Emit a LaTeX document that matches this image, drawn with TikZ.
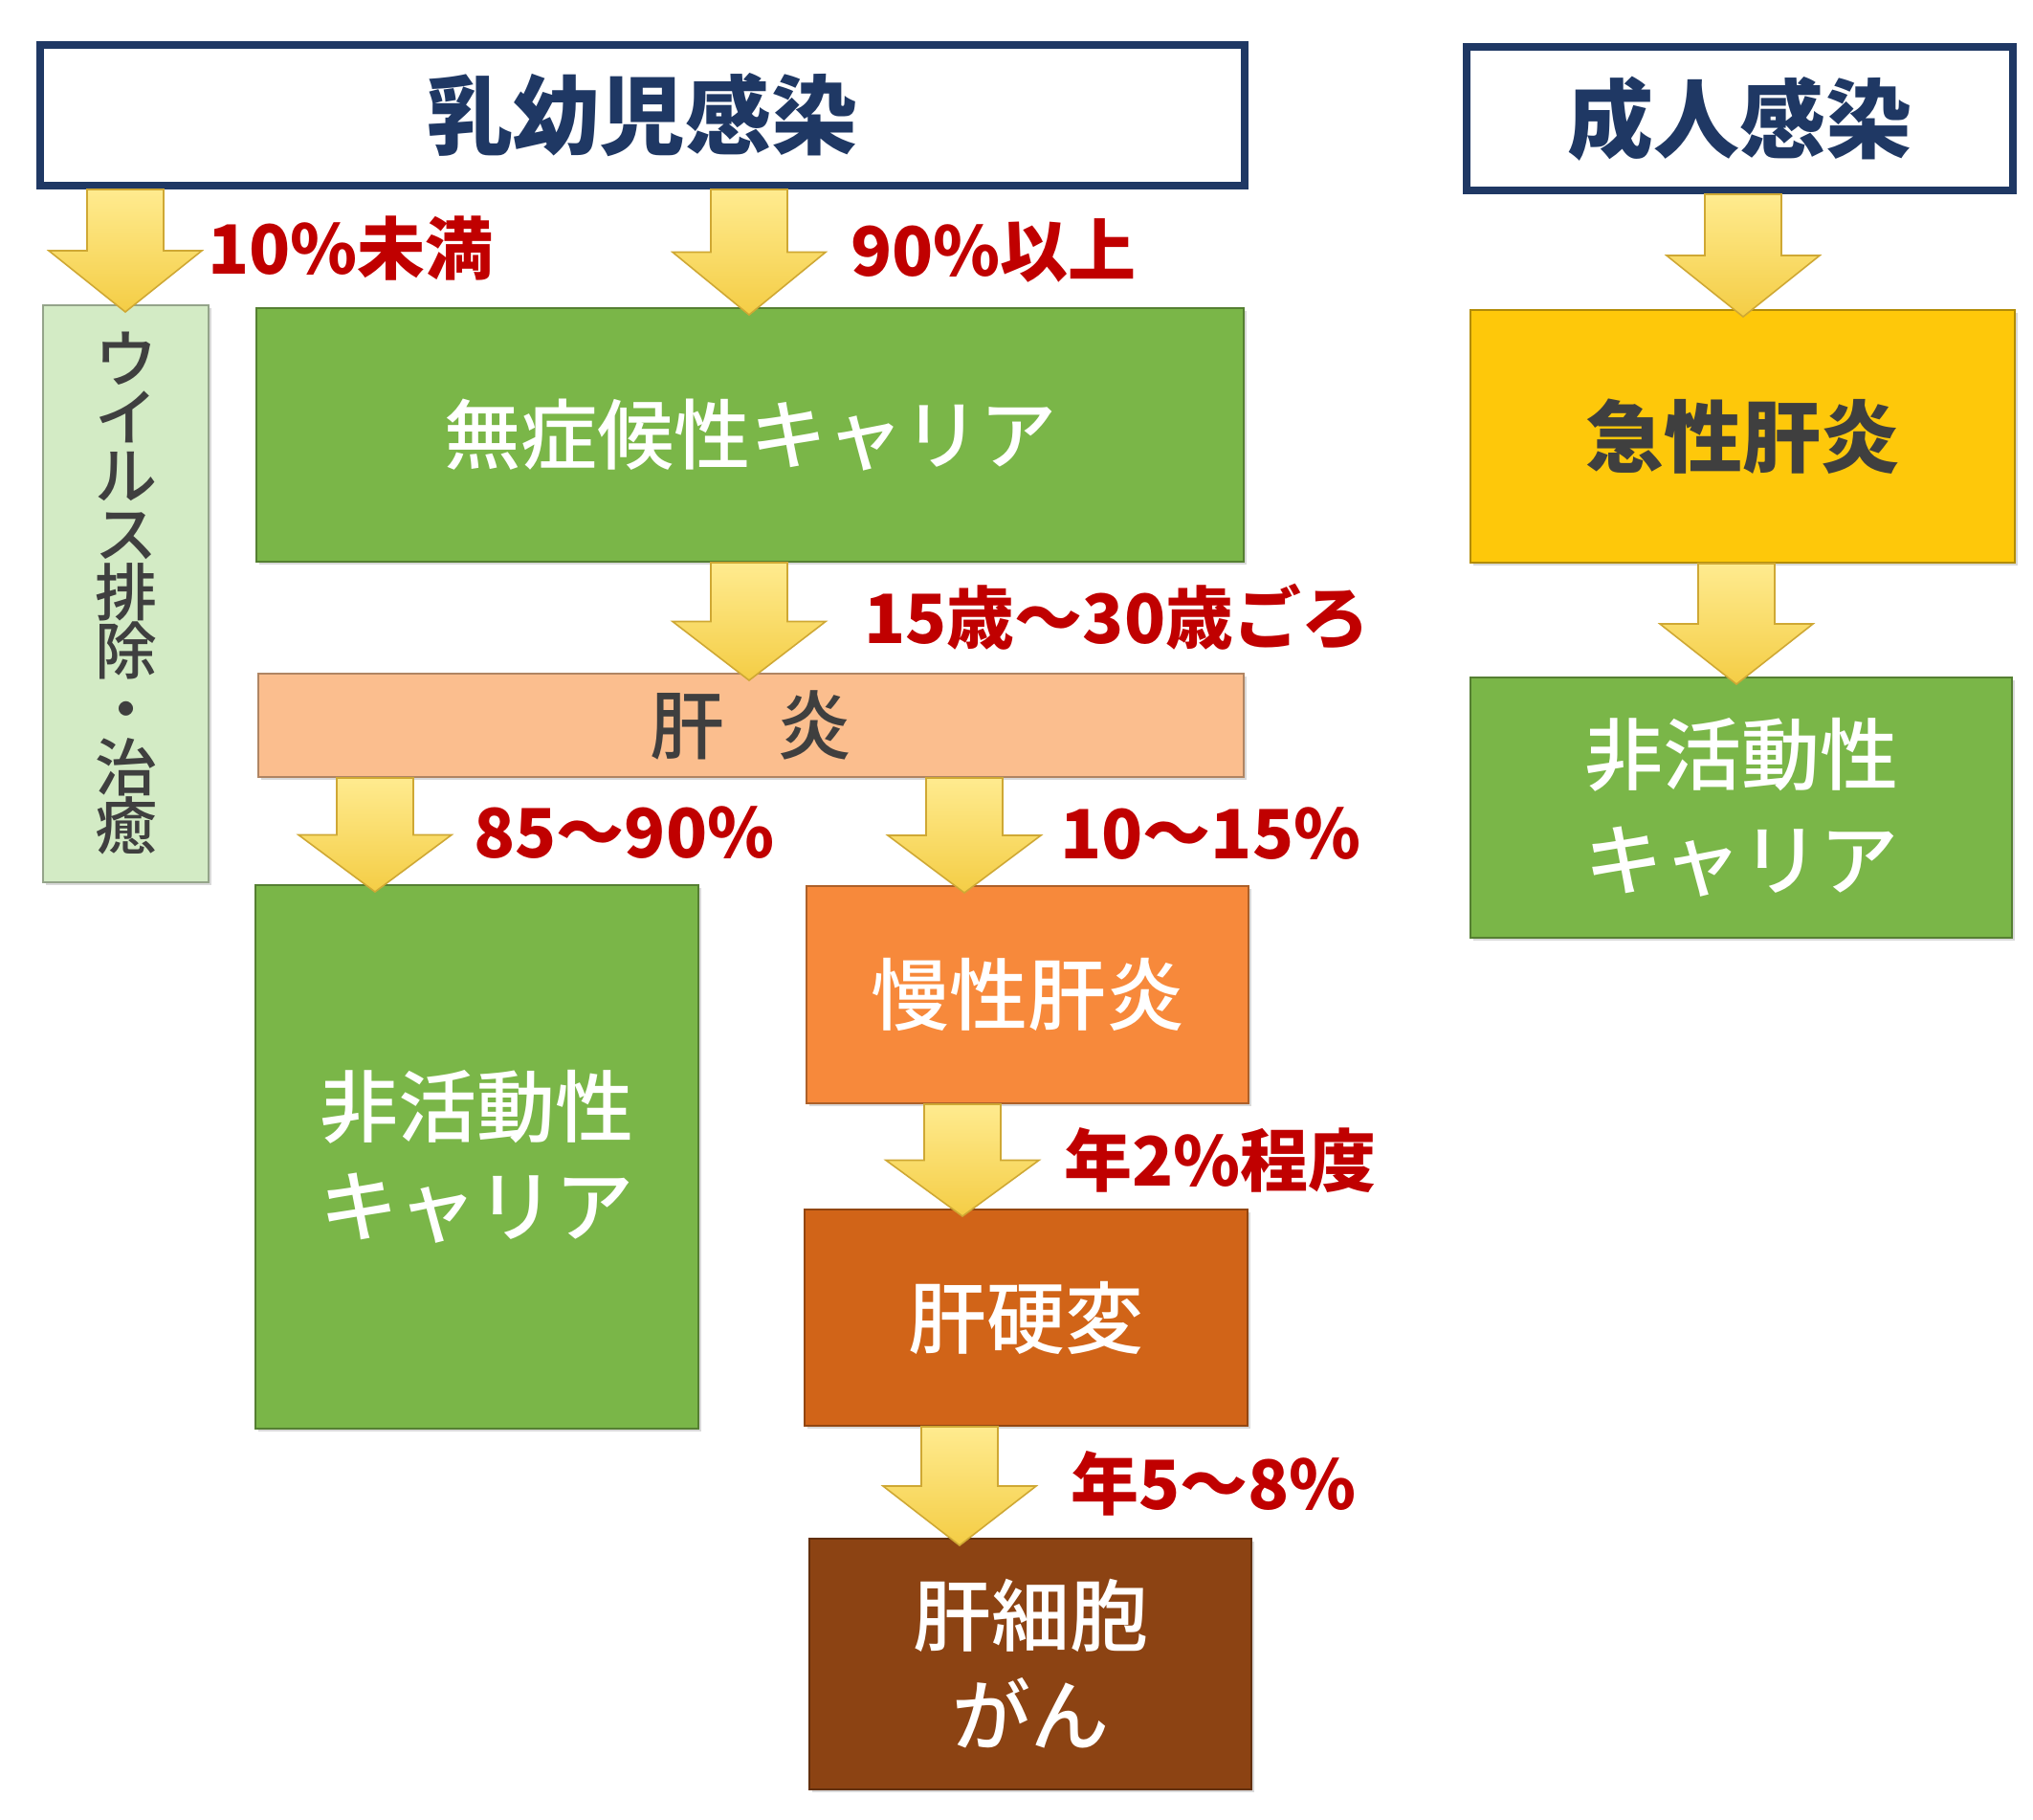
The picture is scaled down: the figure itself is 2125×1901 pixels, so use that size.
\documentclass[tikz,border=0pt]{standalone}
\usepackage{fontspec}
\setmainfont{Noto Sans CJK JP}
\newfontfamily\medfont{Noto Sans CJK JP Medium}
\usetikzlibrary{calc,shadows}

\definecolor{titlenavy}{HTML}{1F3864}
\definecolor{pctred}{HTML}{C00000}
\definecolor{txtgray}{HTML}{3F3F3F}
\definecolor{carrgreen}{HTML}{7AB648}
\definecolor{palegreen}{HTML}{D3EBC5}
\definecolor{peach}{HTML}{FBBE8E}
\definecolor{chronorange}{HTML}{F7893B}
\definecolor{cirrorange}{HTML}{D16418}
\definecolor{hccbrown}{HTML}{8C4313}
\definecolor{acutegold}{HTML}{FEC80A}
\definecolor{arrowhi}{HTML}{FFEB8F}
\definecolor{arrowlo}{HTML}{F4CD45}
\definecolor{arrowedge}{HTML}{CFA834}

%% block arrow: x, from node, to node
\newcommand{\yarrow}[3]{%
  \coordinate (ys) at (#1,0 |- #2.south);
  \coordinate (yt) at ($(#1,0 |- #3.north)+(0,8)$);
  \path[yarrowfill] ($(ys)+(-40,0)$) -- ($(ys)+(40,0)$) -- ($(ys)!.5!(yt)+(40,0)$)
    -- ($(ys)!.5!(yt)+(80,0)$) -- (yt) -- ($(ys)!.5!(yt)+(-80,0)$)
    -- ($(ys)!.5!(yt)+(-40,0)$) -- cycle;
}

\begin{document}
\begin{tikzpicture}[x=0.5pt, y=-0.5pt,
  topbox/.style={draw=titlenavy, line width=4pt, fill=white, inner sep=0pt,
    text=titlenavy, font=\fontsize{45}{50}\selectfont\bfseries,
    drop shadow={shadow xshift=1.5pt, shadow yshift=-1.5pt, opacity=.3}},
  stagebox/.style={draw=#1!70!black, fill=#1, line width=1pt, inner sep=0pt,
    align=center, text=white, font=\medfont\fontsize{41}{52}\selectfont,
    drop shadow={shadow xshift=1.5pt, shadow yshift=-1.5pt, opacity=.3}},
  pct/.style={anchor=west, inner sep=0pt, text=pctred,
    font=\fontsize{35.5}{40}\selectfont\bfseries},
  yarrowfill/.style={draw=arrowedge, line width=.8pt, top color=arrowhi, bottom color=arrowlo}]

  \useasboundingbox (0,0) rectangle (2125,1901);

  %% infection routes
  \node[topbox, minimum width=629.5pt, minimum height=73.5pt] (infant) at (671.5,120.5) {乳幼児感染};
  \node[topbox, minimum width=285.5pt, minimum height=75pt] (adult) at (1818.5,124) {成人感染};

  %% infant side
  \node[stagebox=palegreen, text=txtgray, font=\medfont\fontsize{32.5}{30.5}\selectfont,
    minimum width=86.5pt, minimum height=301.5pt] (cleared) at (131.5,620.5)
    {ウ\\イ\\ル\\ス\\排\\除\\・\\治\\癒};
  \node[stagebox=carrgreen, font=\medfont\fontsize{40}{50}\selectfont,
    minimum width=516pt, minimum height=132.5pt] (asym) at (784,454.5) {無症候性キャリア};
  \node[stagebox=peach, text=txtgray, font=\medfont\fontsize{39}{45}\selectfont,
    minimum width=515pt, minimum height=54pt] (hep) at (785,758) {肝\hspace{0.7em}炎};
  \node[stagebox=carrgreen, minimum width=231.5pt, minimum height=284pt] (inactL) at (498.5,1209) {非活動性\\キャリア};
  \node[stagebox=chronorange, minimum width=231pt, minimum height=113.5pt] (chronic) at (1074,1039.5) {慢性肝炎};
  \node[stagebox=cirrorange, minimum width=231.5pt, minimum height=113pt] (cirrh) at (1072.5,1377) {肝硬変};
  \node[stagebox=hccbrown, minimum width=231pt, minimum height=131pt] (hcc) at (1077,1739) {肝細胞\\がん};

  %% adult side
  \node[stagebox=acutegold, text=txtgray, font=\fontsize{41}{52}\selectfont\bfseries,
    minimum width=284.5pt, minimum height=132pt] (acute) at (1821.5,456) {急性肝炎};
  \node[stagebox=carrgreen, font=\medfont\fontsize{41}{55}\selectfont,
    minimum width=283pt, minimum height=136pt] (inactR) at (1820,844) {非活動性\\キャリア};

  %% arrows
  \yarrow{131}{infant}{cleared}
  \yarrow{783}{infant}{asym}
  \yarrow{783}{asym}{hep}
  \yarrow{392}{hep}{inactL}
  \yarrow{1008}{hep}{chronic}
  \yarrow{1006}{chronic}{cirrh}
  \yarrow{1003}{cirrh}{hcc}
  \yarrow{1822}{adult}{acute}
  \yarrow{1815}{acute}{inactR}

  %% rates
  \node[pct] (p10) at (217,260) {10\%未満};
  \node[pct] (p90) at (889,262) {90\%以上};
  \node[pct] (age) at (903,645) {15歳～30歳ごろ};
  \node[pct] (p85) at (495,870) {85～90\%};
  \node[pct] (p1015) at (1108,871) {10～15\%};
  \node[pct] (yr2) at (1112,1213) {年2\%程度};
  \node[pct] (yr58) at (1119,1550) {年5～8\%};

\end{tikzpicture}
\end{document}
